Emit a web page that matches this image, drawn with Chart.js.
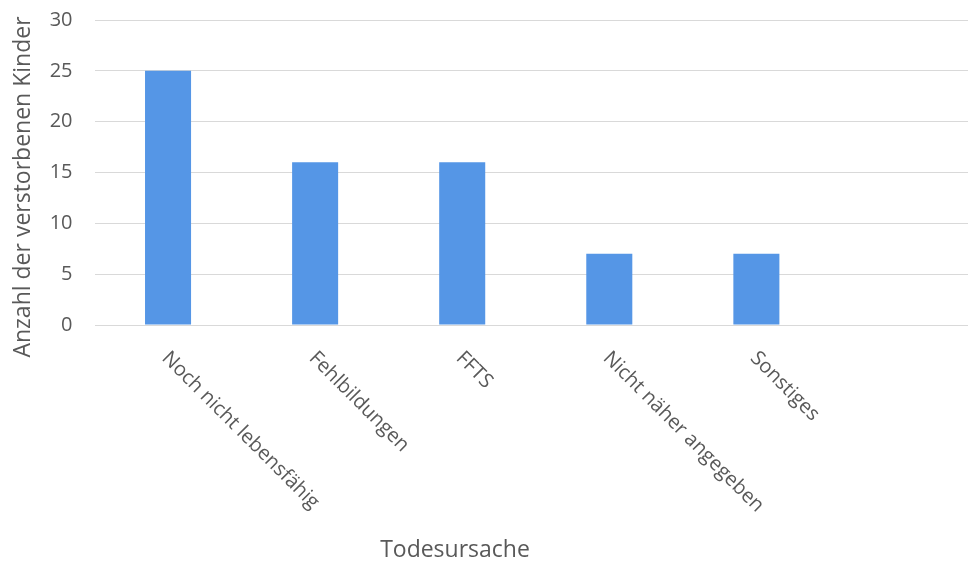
<!DOCTYPE html>
<html lang="de">
<head>
<meta charset="utf-8">
<title>Todesursache</title>
<script src="https://cdn.jsdelivr.net/npm/chart.js@4/dist/chart.umd.min.js"></script>
<style>
  html, body { margin: 0; padding: 0; background: #ffffff; overflow: hidden; }
  #wrap { width: 968px; height: 561px; overflow: hidden; }
  canvas { display: block; }
</style>
</head>
<body>
<div id="wrap"><canvas id="chart" width="977" height="561"></canvas></div>
<script>
// Kategorien (die letzte Spalte bleibt leer) und Anzahl je Todesursache
const categories = ['Noch nicht lebensfähig', 'Fehlbildungen', 'FFTS', 'Nicht näher angegeben', 'Sonstiges', ''];
const counts = [25, 16, 16, 7, 7, null];
const yTicks = [0, 5, 10, 15, 20, 25, 30];
const xTitle = 'Todesursache';
const yTitle = 'Anzahl der verstorbenen Kinder';

const FONT = "'Open Sans', 'DejaVu Sans', sans-serif";
const TEXT = '#595959';
const GRID = '#d9d9d9';

// Kategorie-Beschriftungen um 45° nach rechts unten gedreht, dazu die Achsentitel
const axisText = {
  id: 'axisText',
  afterDraw(chart) {
    const xs = chart.scales.x;
    const area = chart.chartArea;
    const ctx = chart.ctx;
    ctx.save();
    ctx.fillStyle = TEXT;

    ctx.font = '20px ' + FONT;
    ctx.textAlign = 'left';
    ctx.textBaseline = 'alphabetic';
    categories.forEach((label, i) => {
      if (!label) return;
      const x = xs.getPixelForValue(i);
      ctx.save();
      ctx.translate(x - 7, area.bottom + 34);
      ctx.rotate(Math.PI / 4);
      ctx.fillText(label, 0, 0);
      ctx.restore();
    });

    ctx.font = '23px ' + FONT;
    ctx.textAlign = 'center';
    ctx.textBaseline = 'alphabetic';
    ctx.fillText(xTitle, 455, 557);

    ctx.save();
    ctx.translate(23, 187);
    ctx.rotate(-Math.PI / 2);
    ctx.textBaseline = 'middle';
    ctx.fillText(yTitle, 0, 0);
    ctx.restore();

    ctx.restore();
  }
};

new Chart(document.getElementById('chart'), {
  type: 'bar',
  data: {
    labels: categories,
    datasets: [{
      data: counts,
      backgroundColor: '#5596e6',
      borderWidth: 0,
      barPercentage: 0.313,
      categoryPercentage: 1.0
    }]
  },
  options: {
    responsive: false,
    devicePixelRatio: 1,
    animation: false,
    layout: { padding: { top: 20, right: 0, bottom: 0, left: 0 } },
    plugins: { legend: { display: false }, tooltip: { enabled: false } },
    scales: {
      x: {
        ticks: { display: false },
        grid: { display: false },
        border: { display: false },
        afterFit(scale) {
          scale.height = 236;
          scale.paddingLeft = 0;
          scale.paddingRight = 0;
        }
      },
      y: {
        min: 0,
        max: 30,
        afterBuildTicks(scale) { scale.ticks = yTicks.map(v => ({ value: v })); },
        ticks: {
          color: TEXT,
          font: { family: FONT, size: 20 },
          padding: 22
        },
        grid: { color: GRID, lineWidth: 1, drawTicks: false },
        border: { display: false },
        afterFit(scale) {
          scale.width = 94.5;
          scale.paddingTop = 0;
          scale.paddingBottom = 0;
        }
      }
    }
  },
  plugins: [axisText]
});
</script>
</body>
</html>
